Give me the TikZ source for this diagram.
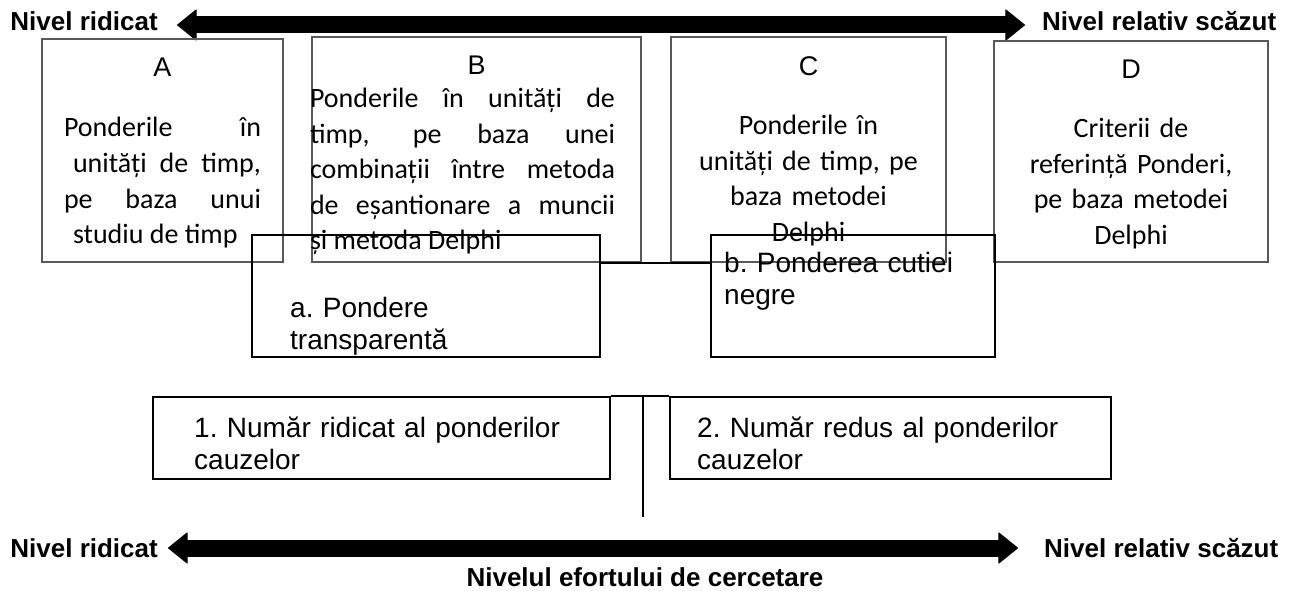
\documentclass[tikz,border=0pt]{standalone}
\usepackage{fontspec}
\setmainfont{Liberation Sans}
\newfontfamily\carlito{Carlito}
\usetikzlibrary{arrows.meta}

\tikzset{
  greybox/.style={draw=black!65, line width=1.1pt, inner sep=0pt},
  blackbox/.style={draw=black, line width=2.3pt, inner sep=0pt},
  boxletter/.style={anchor=base, inner sep=0pt, font=\fontsize{27}{30}\selectfont},
  boxbody/.style={anchor=base, inner sep=0pt, text width=#1, font=\carlito\fontsize{28}{35.5}\selectfont},
  boxlabel/.style={anchor=base west, inner sep=0pt, text width=#1, align=left, font=\fontsize{28}{32.5}\selectfont\frenchspacing},
  level/.style={inner sep=0pt, font=\bfseries\fontsize{26}{30}\selectfont},
  bigarrow/.style={line width=17pt, {Triangle[width=32pt,length=20pt,line width=1pt,round]}-{Triangle[width=32pt,length=20pt,line width=1pt,round]}},
  link/.style={line width=2pt}
}

\begin{document}
\begin{tikzpicture}[x=1pt,y=-1pt]
    \useasboundingbox (0,0) rectangle (1298,591);

    \node[level, anchor=east] (hiTop) at (158,21.5) {Nivel ridicat};
    \node[level, anchor=west] (loTop) at (1042,21.5) {Nivel relativ scăzut};
    \draw[bigarrow, shorten <=19pt, shorten >=17pt] ([yshift=-3.5pt]hiTop.east) -- ([yshift=-3.5pt]loTop.west);

    \node[greybox, minimum width=241pt, minimum height=223pt] (boxA) at (162.5,150.5) {};
    \node[greybox, minimum width=329pt, minimum height=225pt] (boxB) at (476.5,149.5) {};
    \node[greybox, minimum width=275pt, minimum height=225pt] (boxC) at (808.5,149.5) {};
    \node[greybox, minimum width=274pt, minimum height=221pt] (boxD) at (1131,151.5) {};

    \node[boxletter] (letA) at (162.5,77) {A};
    \node[boxletter] (letB) at (476.5,75) {B};
    \node[boxletter] (letC) at (808.5,76) {C};
    \node[boxletter] (letD) at (1131,79) {D};

    \node[boxbody=197pt, align=justify] (bodyA) at (162.5,137)
        {Ponderile în\linebreak\hspace*{9pt}unități de timp,\linebreak pe baza unui\linebreak\hspace*{9pt}studiu de timp};
    \node[boxbody=305pt, align=justify] (bodyB) at (462.5,108)
        {Ponderile în unități de\linebreak timp, pe baza unei\linebreak combinații între metoda\linebreak de eșantionare a muncii\linebreak și metoda Delphi};
    \node[boxbody=260pt, align=center] (bodyC) at (808.5,135)
        {Ponderile în\\unități de timp, pe\\baza metodei\\Delphi};
    \node[boxbody=260pt, align=center] (bodyD) at (1131,138)
        {Criterii de\\referință Ponderi,\\pe baza metodei\\Delphi};

    \node[blackbox, minimum width=348pt, minimum height=122pt] (boxa) at (426,296) {};
    \node[blackbox, minimum width=284pt, minimum height=122pt] (boxb) at (853,296) {};
    \node[boxlabel=300pt] (txta) at (290,317) {a. Pondere\\transparentă};
    \node[boxlabel=260pt] (txtb) at (724,272) {b. Ponderea cutiei\\negre};
    \draw[link] ([yshift=-29pt]boxa.north east) -- ([yshift=-29pt]boxb.north west);

    \node[blackbox, minimum width=457pt, minimum height=82pt] (box1) at (381.5,438) {};
    \node[blackbox, minimum width=441pt, minimum height=82pt] (box2) at (890.5,438) {};
    \node[boxlabel=400pt] (txt1) at (194,437) {1. Număr ridicat al ponderilor\\cauzelor};
    \node[boxlabel=400pt] (txt2) at (697,437) {2. Număr redus al ponderilor\\cauzelor};
    \coordinate (stemEnd) at (643,517);
    \draw[link] (box1.north east) -- (box2.north west);
    \draw[link] (stemEnd |- box1.north) -- (stemEnd);

    \node[level, anchor=east] (hiBot) at (158,548) {Nivel ridicat};
    \node[level, anchor=west] (loBot) at (1044,548) {Nivel relativ scăzut};
    \draw[bigarrow, shorten <=10pt, shorten >=26pt] (hiBot.east) -- (loBot.west);
    \node[level, anchor=base] (effort) at (645,586) {Nivelul efortului de cercetare};
\end{tikzpicture}
\end{document}
